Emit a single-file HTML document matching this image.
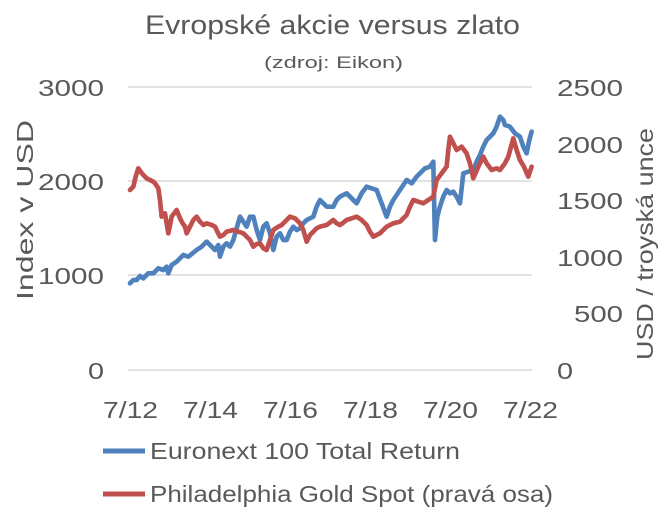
<!DOCTYPE html>
<html><head><meta charset="utf-8"><style>body{margin:0;background:#fff}</style></head><body>
<svg width="666" height="519" xmlns="http://www.w3.org/2000/svg" font-family="Liberation Sans, sans-serif" fill="#595959">
<text x="145" y="34" font-size="27" textLength="375" lengthAdjust="spacingAndGlyphs">Evropské akcie versus zlato</text>
<text x="264" y="68" font-size="17" textLength="139" lengthAdjust="spacingAndGlyphs">(zdroj: Eikon)</text>
<g stroke="#d9d9d9" stroke-width="1.5">
<line x1="128" y1="87" x2="532" y2="87"/><line x1="128" y1="181" x2="532" y2="181"/><line x1="128" y1="275" x2="532" y2="275"/><line x1="128" y1="370" x2="532" y2="370"/>
</g>
<g font-size="23">
<text x="38" y="96" textLength="66" lengthAdjust="spacingAndGlyphs">3000</text><text x="38" y="190" textLength="66" lengthAdjust="spacingAndGlyphs">2000</text><text x="38" y="284" textLength="66" lengthAdjust="spacingAndGlyphs">1000</text><text x="88" y="379" textLength="16" lengthAdjust="spacingAndGlyphs">0</text>
</g>
<g font-size="23">
<text x="557" y="96" textLength="66" lengthAdjust="spacingAndGlyphs">2500</text><text x="557" y="153" textLength="66" lengthAdjust="spacingAndGlyphs">2000</text><text x="557" y="209" textLength="66" lengthAdjust="spacingAndGlyphs">1500</text><text x="557" y="266" textLength="66" lengthAdjust="spacingAndGlyphs">1000</text><text x="574" y="322" textLength="49" lengthAdjust="spacingAndGlyphs">500</text><text x="557" y="379" textLength="16" lengthAdjust="spacingAndGlyphs">0</text>
</g>
<g font-size="23">
<text x="103" y="418" textLength="55" lengthAdjust="spacingAndGlyphs">7/12</text><text x="183" y="418" textLength="55" lengthAdjust="spacingAndGlyphs">7/14</text><text x="263" y="418" textLength="55" lengthAdjust="spacingAndGlyphs">7/16</text><text x="343" y="418" textLength="55" lengthAdjust="spacingAndGlyphs">7/18</text><text x="423" y="418" textLength="55" lengthAdjust="spacingAndGlyphs">7/20</text><text x="503" y="418" textLength="55" lengthAdjust="spacingAndGlyphs">7/22</text>
</g>
<text transform="translate(33,300) rotate(-90)" font-size="23" textLength="180" lengthAdjust="spacingAndGlyphs">Index v USD</text>
<text transform="translate(653,360) rotate(-90)" font-size="23" textLength="232" lengthAdjust="spacingAndGlyphs">USD / troyská unce</text>
<g transform="translate(100,100) scale(0.3333)" fill="none" stroke-width="14" stroke-linejoin="round" stroke-linecap="round">
<polyline stroke="#4f81bd" points="90,550 100,540 110,540 120,528 130,535 145,520 160,520 175,505 190,510 200,500 205,520 215,495 230,485 250,465 265,470 290,450 305,440 320,425 335,440 345,450 355,435 360,470 370,440 380,430 390,440 400,420 410,385 420,350 430,365 440,380 450,350 460,350 470,390 480,420 490,380 500,370 510,400 520,450 530,410 540,400 550,420 560,420 570,395 580,380 590,390 600,385 610,370 620,360 640,350 650,320 660,300 680,320 700,320 710,300 720,290 730,285 740,280 755,295 770,310 785,280 800,260 815,265 830,270 845,310 860,350 870,320 880,300 900,270 920,240 935,250 950,230 965,215 975,205 990,200 1000,185 1005,420 1012,350 1020,320 1030,290 1040,270 1050,280 1060,275 1070,290 1080,310 1090,220 1105,215 1120,210 1130,185 1140,165 1150,140 1160,120 1170,110 1180,100 1190,80 1200,50 1210,60 1215,75 1230,80 1245,100 1260,110 1270,140 1280,160 1288,120 1295,95"/>
<polyline stroke="#c0504d" points="90,270 100,260 107,230 115,205 122,215 130,225 140,235 150,240 160,245 165,250 175,265 180,300 185,350 195,340 205,400 215,350 230,330 238,350 245,365 255,380 260,400 270,380 280,360 290,350 300,365 310,375 320,370 335,375 345,380 352,395 360,410 370,405 380,395 400,390 415,395 430,400 440,410 450,420 460,440 470,432 480,430 490,445 500,450 510,420 520,390 535,380 545,375 560,360 570,350 585,355 600,370 610,390 620,425 630,405 640,395 650,385 660,380 680,375 700,360 710,370 720,375 730,368 740,360 755,355 770,350 785,360 800,375 810,395 820,410 830,405 840,400 850,390 860,380 880,370 900,365 910,355 920,345 930,320 940,300 955,305 970,310 985,300 1000,290 1010,240 1025,220 1040,200 1045,150 1050,110 1060,130 1070,150 1085,140 1100,160 1110,190 1120,235 1135,200 1150,170 1160,190 1175,210 1190,205 1200,210 1215,190 1225,170 1240,115 1250,150 1260,180 1272,200 1285,230 1295,200"/>
</g>
<line x1="103" y1="451" x2="145" y2="451" stroke="#4f81bd" stroke-width="5"/>
<text x="150" y="459" font-size="23" textLength="310" lengthAdjust="spacingAndGlyphs">Euronext 100 Total Return</text>
<line x1="103" y1="494" x2="145" y2="494" stroke="#c0504d" stroke-width="5"/>
<text x="150" y="502" font-size="23" textLength="403" lengthAdjust="spacingAndGlyphs">Philadelphia Gold Spot (pravá osa)</text>
</svg>
</body></html>
